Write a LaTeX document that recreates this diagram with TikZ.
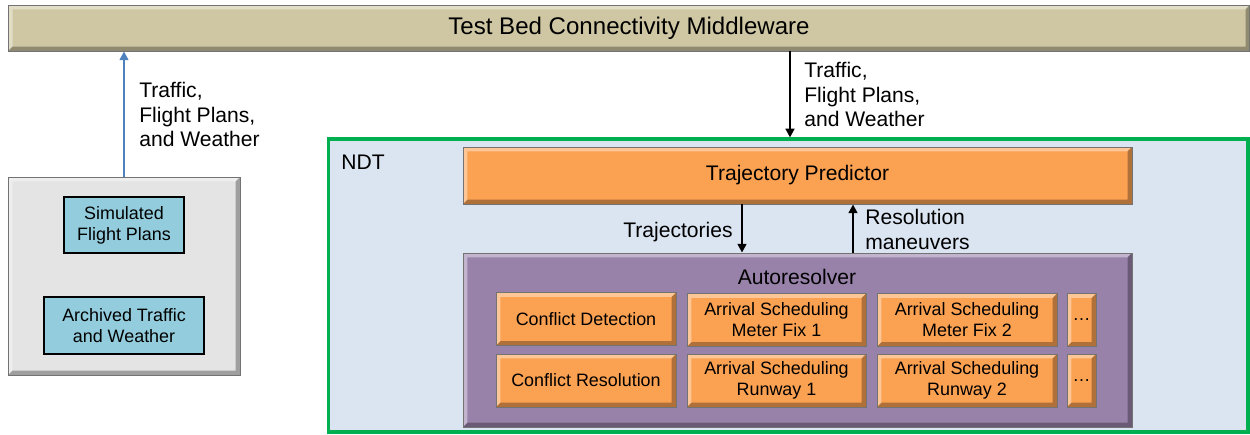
\documentclass[tikz,border=0pt]{standalone}
\usepackage{fontspec}
\setmainfont{Liberation Sans}
\usetikzlibrary{arrows.meta}

\definecolor{bedtan}{RGB}{207,199,163}
\definecolor{srcgray}{RGB}{228,228,228}
\definecolor{srccyan}{RGB}{147,205,221}
\definecolor{ndtfill}{RGB}{219,229,241}
\definecolor{ndtgreen}{RGB}{0,176,80}
\definecolor{tporange}{RGB}{251,161,82}
\definecolor{arpurple}{RGB}{152,130,170}
\definecolor{feedblue}{RGB}{79,129,189}
\newcommand{\bevw}{2.5pt}

\begin{document}
\begin{tikzpicture}[x=0.02cm,y=-0.02cm,
    bevel/.style={path picture={
        \path (path picture bounding box.south west) coordinate (bvsw)
              (path picture bounding box.north east) coordinate (bvne);
        \fill[white,opacity=.4] (bvsw) |- (bvne) -- ++(-\bevw,-\bevw)
              -| ([shift={(\bevw,\bevw)}]bvsw) -- cycle;
        \fill[black,opacity=.3] (bvsw) -| (bvne) -- ++(-\bevw,-\bevw)
              |- ([shift={(\bevw,\bevw)}]bvsw) -- cycle;}},
    box/.style={draw=black!55,line width=0.5pt,inner sep=1pt,align=center,
        font=\fontsize{12}{14}\selectfont,bevel},
    cell/.style={box,fill=tporange,minimum height=1.06cm,
        font=\fontsize{10.2}{12}\selectfont},
    srcbox/.style={draw=black,line width=1.4pt,fill=srccyan,inner sep=1pt,
        align=center,font=\fontsize{10.2}{12}\selectfont},
    lbl/.style={inner sep=0pt,align=left,font=\fontsize{12}{14}\selectfont},
    feed/.style={line width=1.2pt,-{Triangle[length=5pt,width=5pt]}}]
\useasboundingbox (0,0) rectangle (1250,434);

% middleware bar
\node[box,fill=bedtan,minimum width=24.84cm,minimum height=0.92cm,
    font=\fontsize{13.7}{16}\selectfont] (bed) at (629,28)
    {Test Bed Connectivity Middleware};

% offline sources
\node[box,fill=srcgray,minimum width=4.64cm,minimum height=3.96cm] (src) at (124,276) {};
\node[srcbox,minimum width=2.4cm,minimum height=1.12cm] (sim) at (124,225)
    {Simulated\\Flight Plans};
\node[srcbox,minimum width=3.2cm,minimum height=1.14cm] (arch) at (124,325.5)
    {Archived Traffic\\and Weather};
\draw[feed,draw=feedblue,fill=feedblue,line width=1.4pt] (src.north) -- (src.north |- bed.south);
\node[lbl,anchor=north west] (srclbl) at (139,82) {Traffic,\\Flight Plans,\\and Weather};

% NDT
\node[draw=ndtgreen,line width=1.8pt,fill=ndtfill,minimum width=18.4cm,
    minimum height=5.86cm] (ndt) at (788,285.5) {};
\node[lbl,anchor=north west] (ndtlbl) at (341,155) {NDT};
\coordinate (feedx) at (790,0);
\draw[feed] (bed.south -| feedx) -- (ndt.north -| feedx);
\node[lbl,anchor=north west] (ndtfeed) at (804,62) {Traffic,\\Flight Plans,\\and Weather};

\node[box,fill=tporange,minimum width=13.38cm,minimum height=1.14cm] (tp) at (797.5,175.5)
    {Trajectory Predictor};
\node[box,fill=arpurple,minimum width=13.38cm,minimum height=3.48cm] (ar) at (797.5,340) {};
\node[lbl,anchor=base] (arlbl) at (797,284) {Autoresolver};

\coordinate (trajx) at (742,0);
\coordinate (resx) at (853,0);
\draw[feed] (tp.south -| trajx) -- (ar.north -| trajx);
\draw[feed] (ar.north -| resx) -- (tp.south -| resx);
\node[lbl,anchor=base east] (trajlbl) at (733,237) {Trajectories};
\node[lbl,anchor=north west] (reslbl) at (865,209) {Resolution\\maneuvers};

% autoresolver functions
\node[cell,minimum width=3.6cm] (cd) at (586,319) {Conflict Detection};
\node[cell,minimum width=3.6cm] (cr) at (586,380.5) {Conflict Resolution};
\node[cell,minimum width=3.58cm] (asm1) at (776.5,320) {Arrival Scheduling\\Meter Fix 1};
\node[cell,minimum width=3.58cm] (asr1) at (776.5,380.5) {Arrival Scheduling\\Runway 1};
\node[cell,minimum width=3.6cm] (asm2) at (967,320) {Arrival Scheduling\\Meter Fix 2};
\node[cell,minimum width=3.6cm] (asr2) at (967,380.5) {Arrival Scheduling\\Runway 2};
\node[cell,minimum width=0.58cm] (morem) at (1081.5,320) {\dots};
\node[cell,minimum width=0.58cm] (morer) at (1081.5,380.5) {\dots};
\end{tikzpicture}
\end{document}
